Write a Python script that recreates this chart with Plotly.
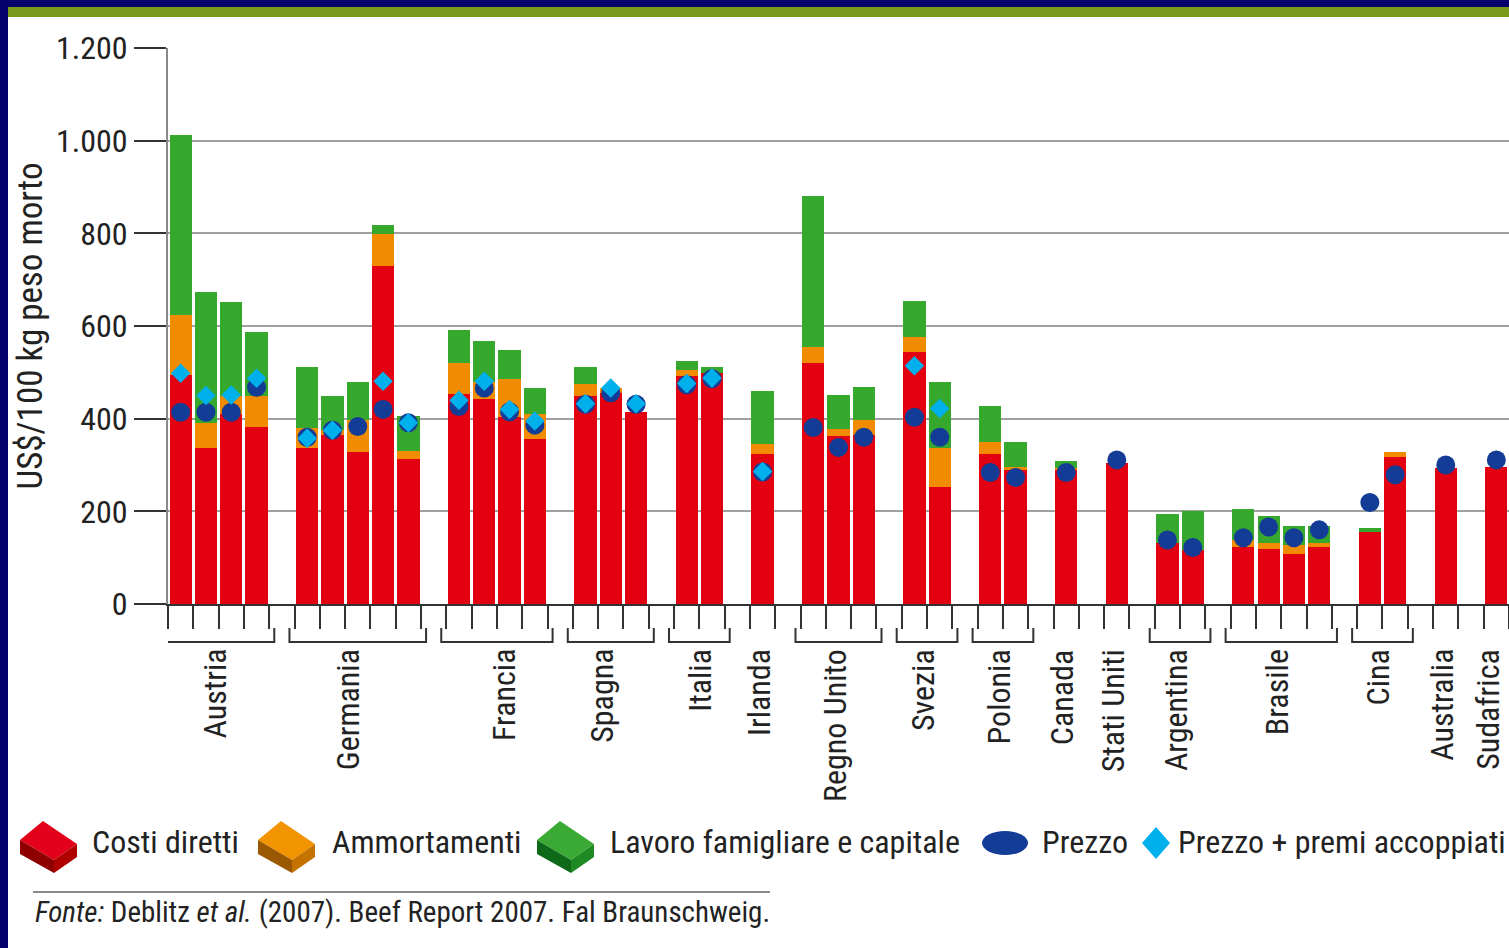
import plotly.graph_objects as go

# ---------------- data ----------------
groups = ["Austria", "Germania", "Francia", "Spagna", "Italia", "Irlanda",
          "Regno Unito", "Svezia", "Polonia", "Canada", "Stati Uniti",
          "Argentina", "Brasile", "Cina", "Australia", "Sudafrica"]
group_sizes = [4, 5, 4, 3, 2, 1, 3, 2, 2, 1, 1, 2, 4, 2, 1, 1]

costi_diretti = [494, 337, 410, 383,
                 337, 365, 327, 730, 313,
                 453, 443, 404, 356,
                 448, 455, 415,
                 493, 498,
                 323,
                 521, 363, 365,
                 544, 253,
                 323, 289,
                 290,
                 304,
                 131, 117,
                 124, 119, 109, 124,
                 156, 318,
                 293,
                 295]
ammortamenti = [130, 54, 40, 66,
                42, 10, 70, 69, 18,
                68, 37, 81, 55,
                27, 11, 0,
                13, 0,
                22,
                33, 15, 32,
                32, 83,
                27, 6,
                4,
                0,
                0, 0,
                14, 13, 18, 8,
                0, 9,
                0,
                0]
lavoro_famigliare = [388, 282, 201, 137,
                     133, 73, 83, 18, 75,
                     70, 87, 63, 55,
                     37, 0, 0,
                     19, 14,
                     115,
                     327, 73, 72,
                     79, 144,
                     78, 55,
                     15,
                     0,
                     63, 84,
                     68, 57, 42, 37,
                     9, 0,
                     0,
                     0]
prezzo = [414, 414, 414, 468,
          360, 375, 383, 420, 391,
          426, 466, 415, 386,
          431, 456, 431,
          473, 486,
          285,
          381, 338, 360,
          403, 360,
          284, 273,
          284,
          311,
          138, 122,
          143, 166, 143, 160,
          219, 279,
          300,
          311]
prezzo_premi = [498, 450, 451, 487,
                358, 375, None, 481, 391,
                440, 481, 420, 395,
                432, 466, 432,
                476, 488,
                286,
                None, None, None,
                514, 422,
                None, None,
                None,
                None,
                None, None,
                None, None, None, None,
                None, None,
                None,
                None]

y_tickvals = [0, 200, 400, 600, 800, 1000, 1200]
y_ticktext = ["0", "200", "400", "600", "800", "1.000", "1.200"]

series_names = ["Costi diretti", "Ammortamenti", "Lavoro famigliare e capitale",
                "Prezzo", "Prezzo + premi accoppiati"]
y_title = "US$/100 kg peso morto"
source_text = "<i>Fonte:</i> Deblitz <i>et al.</i> (2007). Beef Report 2007. Fal Braunschweig."

# ---------------- positions (one empty slot between countries) ----------------
pos, centers, spans = [], [], []
p = 0
for n in group_sizes:
    pos += list(range(p, p + n))
    centers.append(p + (n - 1) / 2)
    spans.append((p, p + n - 1))
    p += n + 1
last_slot = pos[-1]

# ---------------- styling ----------------
W, H = 1509, 948
ML, MR, MT, MB = 168, 0, 48, 344
PW, PH = W - ML - MR, H - MT - MB
FONT = "Roboto Condensed, Liberation Sans Narrow, Roboto, sans-serif"
TXT = "#222222"
RED, ORANGE, GREEN = "#E30010", "#F18C00", "#37A82E"
NAVY_MARK, CYAN = "#133C96", "#00B0EC"
FRAME = "#03036B"


def px(xp):
    return (xp - ML) / PW


def py(yp):
    return ((H - MB) - yp) / PH


fig = go.Figure()
for name, vals, col in [(series_names[0], costi_diretti, RED),
                        (series_names[1], ammortamenti, ORANGE),
                        (series_names[2], lavoro_famigliare, GREEN)]:
    fig.add_trace(go.Bar(x=pos, y=vals, name=name, showlegend=False,
                         marker=dict(color=col, line=dict(width=0))))

fig.add_trace(go.Scatter(x=pos, y=prezzo, name=series_names[3], mode="markers",
                         showlegend=False,
                         marker=dict(symbol="circle", size=19, color=NAVY_MARK,
                                     line=dict(width=0))))
fig.add_trace(go.Scatter(x=pos, y=prezzo_premi, name=series_names[4], mode="markers",
                         showlegend=False,
                         marker=dict(symbol="diamond", size=15, color=CYAN,
                                     line=dict(width=0))))

shapes = []
# frame: white page, green band on top
shapes.append(dict(type="rect", xref="paper", yref="paper", layer="below",
                   x0=px(8), x1=px(W + 20), y0=py(17), y1=py(H + 20),
                   fillcolor="white", line=dict(width=0)))
shapes.append(dict(type="rect", xref="paper", yref="paper", layer="below",
                   x0=px(8), x1=px(W + 20), y0=py(7), y1=py(17),
                   fillcolor="#7A9A1C", line=dict(width=0)))

# group brackets
for (a, b), n in zip(spans, group_sizes):
    if n < 2:
        continue
    x0, x1 = a - 0.7, b + 0.7
    y1, y2 = py(628), py(642)
    shapes.append(dict(type="path", xref="x", yref="paper",
                       path=f"M {x0},{y1} L {x0},{y2} L {x1},{y2} L {x1},{y1}",
                       line=dict(color="#333333", width=2)))

annotations = []
label_shift = {"Germania": -10, "Francia": 7, "Spagna": -9, "Italia": 0,
               "Sudafrica": -9}
for g, c in zip(groups, centers):
    annotations.append(dict(x=c, xref="x", y=py(647), yref="paper",
                            text=g, textangle=-90, showarrow=False,
                            xanchor="center", yanchor="top",
                            xshift=label_shift.get(g, -4),
                            font=dict(family=FONT, size=32, color=TXT)))


# custom legend
def box_path(dx):
    top = [(20, 840), (43, 821), (77, 844), (54, 860)]
    left = [(20, 840), (54, 860), (54, 873), (20, 854)]
    right = [(54, 860), (77, 844), (77, 857), (54, 873)]
    out = []
    for poly in (top, left, right):
        out.append("M " + " L ".join(f"{px(x + dx)},{py(y)}" for x, y in poly) + " Z")
    return out


for dx, cols in [(0, ("#E2001A", "#8E0000", "#B00000")),
                 (238, ("#F29400", "#9A5800", "#C47200")),
                 (517, ("#3AAA35", "#0E6A18", "#1E8A24"))]:
    for path, col in zip(box_path(dx), cols):
        shapes.append(dict(type="path", xref="paper", yref="paper", path=path,
                           fillcolor=col, line=dict(width=0)))

shapes.append(dict(type="circle", xref="paper", yref="paper",
                   x0=px(982), x1=px(1028), y0=py(855), y1=py(831),
                   fillcolor=NAVY_MARK, line=dict(width=0)))
cx, cy = 1156, 843
shapes.append(dict(type="path", xref="paper", yref="paper",
                   path=f"M {px(cx-14)},{py(cy)} L {px(cx)},{py(cy-16)} L {px(cx+14)},{py(cy)} L {px(cx)},{py(cy+16)} Z",
                   fillcolor=CYAN, line=dict(width=0)))

for xl, t in zip([90, 330, 608, 1040, 1176], series_names):
    annotations.append(dict(x=px(xl), xref="paper", y=py(842), yref="paper",
                            text=t, showarrow=False, xanchor="left", yanchor="middle",
                            font=dict(family=FONT, size=32, color=TXT)))

# source
shapes.append(dict(type="line", xref="paper", yref="paper",
                   x0=px(33), x1=px(770), y0=py(892), y1=py(892),
                   line=dict(color="#8A8A8A", width=2)))
annotations.append(dict(x=px(33), xref="paper", y=py(912), yref="paper",
                        text=source_text, showarrow=False, xanchor="left",
                        yanchor="middle",
                        font=dict(family=FONT, size=29, color=TXT)))

fig.update_layout(
    width=W, height=H,
    margin=dict(l=ML, r=MR, t=MT, b=MB, pad=0),
    paper_bgcolor=FRAME, plot_bgcolor="white",
    barmode="stack", bargap=0.12,
    showlegend=False,
    font=dict(family=FONT, size=32, color=TXT),
    shapes=shapes, annotations=annotations,
    xaxis=dict(range=[-0.5, last_slot + 0.5],
               tickvals=[i - 0.5 for i in range(last_slot + 2)],
               showticklabels=False, ticks="outside", ticklen=23, tickwidth=2,
               tickcolor="#333333", showline=True, linecolor="#333333", linewidth=2,
               showgrid=False, zeroline=False, fixedrange=True),
    yaxis=dict(range=[0, 1200], tickvals=y_tickvals, ticktext=y_ticktext,
               ticks="outside", ticklen=32, tickwidth=2, tickcolor="#333333",
               tickfont=dict(family=FONT, size=32, color=TXT),
               showline=True, linecolor="#888888", linewidth=2,
               showgrid=True, gridcolor="#A0A0A0", gridwidth=2, zeroline=False,
               title=dict(text=y_title, font=dict(family=FONT, size=35, color=TXT),
                          standoff=3),
               automargin=False, fixedrange=True),
)

fig.write_html("out.html", config={"displayModeBar": False},
               post_script="document.body.style.margin='0px';document.documentElement.style.overflow='hidden';")
